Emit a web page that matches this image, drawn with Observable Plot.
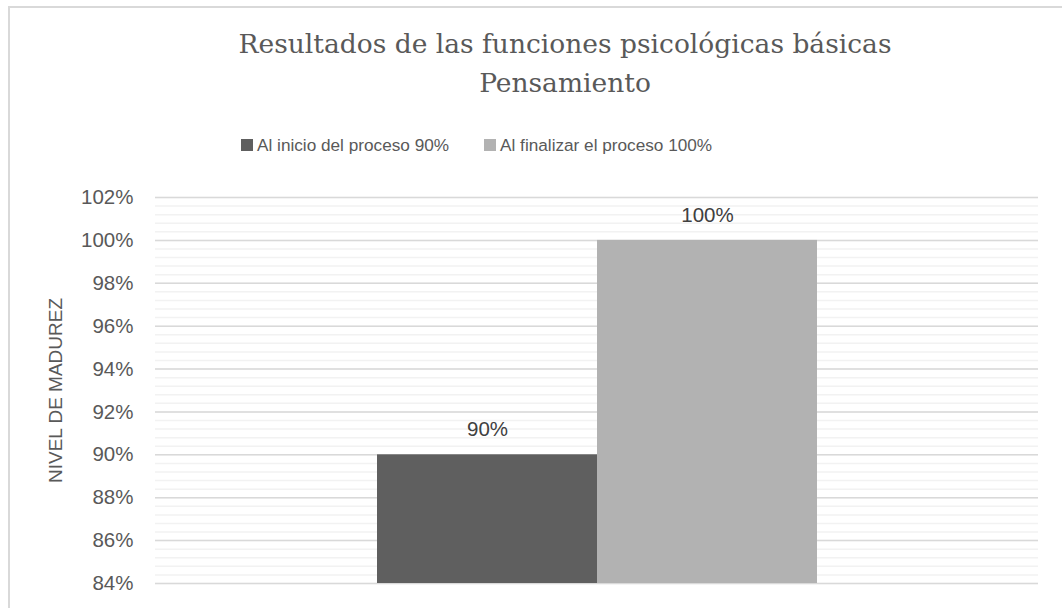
<!DOCTYPE html>
<html>
<head>
<meta charset="utf-8">
<script src="https://cdn.jsdelivr.net/npm/d3@7"></script>
<script src="https://cdn.jsdelivr.net/npm/@observablehq/plot@0.6"></script>
<style>
  html, body { margin: 0; padding: 0; background: #fff; }
  body { width: 1062px; height: 608px; position: relative; overflow: hidden; font-family: "Liberation Sans", Arial, sans-serif; }
  #frame { position: absolute; left: 8px; top: 6px; width: 1200px; height: 800px; border-left: 2px solid #d9d9d9; border-top: 2px solid #d9d9d9; z-index: 2; pointer-events: none; }
  #title { position: absolute; left: 65px; width: 1000px; top: 24px; text-align: center; font-family: "DejaVu Serif", "Liberation Serif", serif; font-size: 26.5px; line-height: 39px; color: #595959; }
  #legend { position: absolute; top: 135px; left: 241px; display: flex; align-items: center; font-size: 17.2px; line-height: 20px; color: #595959; }
  #legend .item { display: flex; align-items: center; }
  #legend .sw { width: 12px; height: 12px; margin-right: 4px; }
  #chart { position: absolute; left: 0; top: 165px; }
</style>
</head>
<body>
<div id="frame"></div>
<div id="title"></div>
<div id="legend"></div>
<div id="chart"></div>
<script>
// Data
const titleLines = ["Resultados de las funciones psicológicas básicas", "Pensamiento"];
const series = ["Al inicio del proceso 90%", "Al finalizar el proceso 100%"];
const values = [90, 100];
const colors = ["#5f5f5f", "#b2b2b2"];
const yTicks = [84, 86, 88, 90, 92, 94, 96, 98, 100, 102];
const yLabel = "NIVEL DE MADUREZ";

// Title
document.getElementById("title").innerHTML = titleLines.join("<br>");

// Legend
const legend = document.getElementById("legend");
series.forEach((s, i) => {
  const it = document.createElement("div");
  it.className = "item";
  it.style.marginRight = i === 0 ? "35px" : "0";
  const sw = document.createElement("div");
  sw.className = "sw";
  sw.style.background = colors[i];
  const tx = document.createElement("span");
  tx.textContent = s;
  it.appendChild(sw); it.appendChild(tx);
  legend.appendChild(it);
});

const data = series.map((s, i) => ({serie: s, value: values[i]}));
const yMin = yTicks[0], yMax = yTicks[yTicks.length - 1];
const minor = d3.range(yMin, yMax + 0.001, 0.4).map(v => +v.toFixed(2));

const chart = Plot.plot({
  width: 1062,
  height: 443,
  marginLeft: 155,
  marginRight: 24,
  marginTop: 32,
  marginBottom: 25,
  style: {fontFamily: "'Liberation Sans', Arial, sans-serif", background: "transparent"},
  x: {domain: series, paddingInner: 0, paddingOuter: 1, axis: null},
  y: {domain: [yMin, yMax], axis: null},
  color: {domain: series, range: colors},
  marks: [
    Plot.ruleY(minor, {stroke: "#f2f2f2", strokeWidth: 1.5}),
    Plot.ruleY(yTicks, {stroke: "#d9d9d9", strokeWidth: 1.5}),
    Plot.barY(data, {x: "serie", y1: yMin, y2: "value", fill: "serie"}),
    Plot.axisY(yTicks, {tickSize: 0, tickPadding: 22, tickFormat: d => d + "%", fontSize: 20.5, fill: "#595959", label: null}),
    Plot.text(data, {x: "serie", y: "value", text: d => d.value + "%", dy: -25, fontSize: 20.5, fill: "#404040"}),
    Plot.text([yLabel], {frameAnchor: "left", dx: -100, rotate: -90, fontSize: 19, fill: "#595959", textAnchor: "middle"})
  ]
});
document.getElementById("chart").appendChild(chart);
</script>
</body>
</html>
